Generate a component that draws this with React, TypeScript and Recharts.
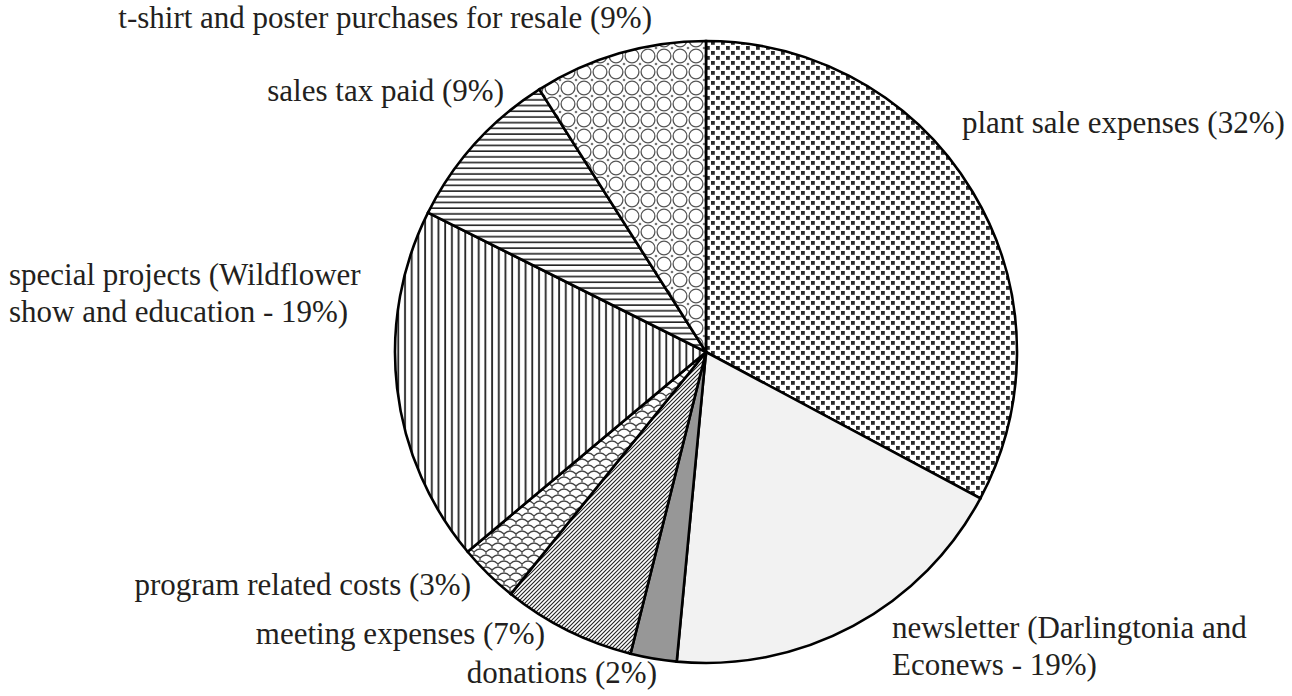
import React from 'react';
import { PieChart, Pie, Cell } from 'recharts';

// expense shares (labels show the rounded %)
const categories = [
  'plant sale expenses',
  'newsletter',
  'donations',
  'meeting expenses',
  'program related costs',
  'special projects',
  'sales tax paid',
  't-shirt and poster purchases for resale',
];
const shares = [32.8, 18.7, 2.4, 6.9, 3.1, 18.5, 8.6, 9.0];
const labelLines = [
  ['plant sale expenses (32%)'],
  ['newsletter (Darlingtonia and', 'Econews - 19%)'],
  ['donations (2%)'],
  ['meeting expenses (7%)'],
  ['program related costs (3%)'],
  ['special projects (Wildflower', 'show and education - 19%)'],
  ['sales tax paid (9%)'],
  ['t-shirt and poster purchases for resale (9%)'],
];

const fills = [
  'url(#pDots)',
  '#f2f2f2',
  '#979797',
  'url(#pDiag)',
  'url(#pShingle)',
  'url(#pVert)',
  'url(#pHoriz)',
  'url(#pCircles)',
];

// where each label sits (x, first baseline, anchor)
const labelPos: Array<{ x: number; y: number; anchor: 'start' | 'end' }> = [
  { x: 962, y: 133, anchor: 'start' },
  { x: 892, y: 638, anchor: 'start' },
  { x: 657, y: 683, anchor: 'end' },
  { x: 545, y: 644, anchor: 'end' },
  { x: 471, y: 595, anchor: 'end' },
  { x: 9, y: 285, anchor: 'start' },
  { x: 504, y: 101, anchor: 'end' },
  { x: 652, y: 28, anchor: 'end' },
];

const data = categories.map((name, i) => ({ name, value: shares[i] }));

const FONT = '"Liberation Serif", "Times New Roman", serif';

function renderLabel(props: any) {
  const i = props.index;
  const pos = labelPos[i];
  return (
    <text
      key={`lbl-${i}`}
      x={pos.x}
      y={pos.y}
      textAnchor={pos.anchor}
      fill="#231f20"
      fontFamily={FONT}
      fontSize={31}
    >
      {labelLines[i].map((line, j) => (
        <tspan key={j} x={pos.x} dy={j === 0 ? 0 : 37}>
          {line}
        </tspan>
      ))}
    </text>
  );
}

function Patterns() {
  return (
    <svg width={0} height={0} style={{ position: 'absolute' }}>
      <defs>
        <pattern id="pDots" patternUnits="userSpaceOnUse" width={10} height={10}>
          <rect width={10} height={10} fill="#fff" />
          <rect x={1} y={1} width={3.8} height={3.8} fill="#2a2a2a" />
          <rect x={6} y={6} width={3.8} height={3.8} fill="#2a2a2a" />
        </pattern>
        <pattern id="pDiag" patternUnits="userSpaceOnUse" width={4} height={4}>
          <rect width={4} height={4} fill="#fff" />
          <path d="M-1,1 L1,-1 M0,4 L4,0 M3,5 L5,3" stroke="#222" strokeWidth={1.1} />
        </pattern>
        <pattern id="pShingle" patternUnits="userSpaceOnUse" width={12} height={12}>
          <rect width={12} height={12} fill="#fff" />
          <path
            d="M0,6 Q6,0 12,6 M-6,12 Q0,6 6,12 M6,12 Q12,6 18,12 M0,6 L0,8 M12,6 L12,8 M6,0 L6,2"
            stroke="#444"
            strokeWidth={1.3}
            fill="none"
          />
        </pattern>
        <pattern id="pVert" patternUnits="userSpaceOnUse" width={6.7} height={10}>
          <rect width={6.7} height={10} fill="#fff" />
          <line x1={3} y1={0} x2={3} y2={10} stroke="#222" strokeWidth={1.8} />
        </pattern>
        <pattern id="pHoriz" patternUnits="userSpaceOnUse" width={10} height={5.7}>
          <rect width={10} height={5.7} fill="#fff" />
          <line x1={0} y1={3} x2={10} y2={3} stroke="#222" strokeWidth={1.6} />
        </pattern>
        <pattern id="pCircles" patternUnits="userSpaceOnUse" width={16} height={16}>
          <rect width={16} height={16} fill="#fff" />
          <circle cx={8} cy={8} r={6.9} stroke="#555" strokeWidth={1.3} fill="none" />
          <circle cx={0} cy={0} r={1.3} fill="#777" />
          <circle cx={16} cy={0} r={1.3} fill="#777" />
          <circle cx={0} cy={16} r={1.3} fill="#777" />
          <circle cx={16} cy={16} r={1.3} fill="#777" />
        </pattern>
      </defs>
    </svg>
  );
}

export default function App() {
  return (
    <div style={{ position: 'absolute', left: 0, top: 0, background: '#fff' }}>
      <Patterns />
      <PieChart width={1292} height={696} margin={{ top: 0, right: 0, bottom: 0, left: 0 }}>
        <Pie
          data={data}
          dataKey="value"
          nameKey="name"
          cx={706}
          cy={352}
          outerRadius={311}
          startAngle={90}
          endAngle={-270}
          stroke="#000"
          strokeWidth={2.5}
          label={renderLabel}
          labelLine={false}
          isAnimationActive={false}
        >
          {data.map((d, i) => (
            <Cell key={d.name} fill={fills[i]} stroke="#000" strokeWidth={2.6} />
          ))}
        </Pie>
      </PieChart>
    </div>
  );
}
